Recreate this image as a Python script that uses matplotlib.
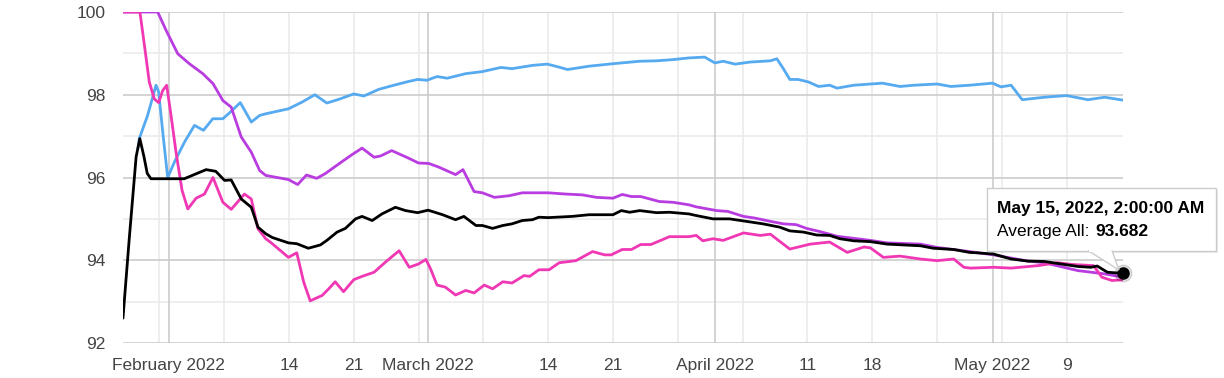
import matplotlib
matplotlib.use('Agg')
import matplotlib.pyplot as plt
import matplotlib.dates as mdates
import numpy as np
import pandas as pd
from matplotlib.patches import Rectangle, Polygon

plt.rcParams['font.family'] = ['Liberation Sans', 'DejaVu Sans']

# x values are days since 2022-02-01 00:00
BASE = pd.Timestamp('2022-02-01')
START_DAY = -4.917   # Jan 27, 02:00
END_DAY = 103.083    # May 15, 02:00

avg_all = [
  (-4.92, 92.60), (-4.25, 94.50), (-3.5, 96.50), (-3.1, 96.94), (-2.65, 96.50), (-2.3, 96.10),
  (-1.9, 95.97), (0.0, 95.97), (1.7, 95.97), (4.06, 96.19), (5.1, 96.15), (6.05, 95.93),
  (6.77, 95.94), (7.86, 95.48), (8.94, 95.28), (9.66, 94.80), (10.5, 94.64), (11.2, 94.55),
  (12.95, 94.42), (13.85, 94.40), (15.1, 94.29), (16.4, 94.37), (17.1, 94.48), (18.2, 94.68),
  (19.1, 94.77), (20.2, 95.00), (20.9, 95.06), (22.0, 94.96), (23.05, 95.12), (24.5, 95.28),
  (25.6, 95.20), (26.9, 95.15), (28.04, 95.21), (29.6, 95.10), (31.0, 94.98), (31.9, 95.06),
  (33.2, 94.84), (33.9, 94.84), (35.0, 94.77), (36.1, 94.84), (37.1, 94.88), (38.2, 94.96),
  (39.3, 94.98), (40.0, 95.04), (41.0, 95.03), (43.6, 95.06), (45.4, 95.10), (48.0, 95.10),
  (48.9, 95.20), (49.8, 95.16), (50.9, 95.20), (52.7, 95.15), (54.1, 95.16), (56.2, 95.12),
  (57.0, 95.08), (58.8, 95.00), (60.6, 95.00), (62.4, 94.94), (64.2, 94.88), (66.0, 94.80),
  (67.1, 94.71), (68.6, 94.68), (70.0, 94.61), (71.4, 94.60), (72.5, 94.52), (74.0, 94.47),
  (75.8, 94.45), (77.6, 94.39), (79.4, 94.37), (81.2, 94.35), (82.6, 94.29), (84.8, 94.26),
  (86.5, 94.19), (87.3, 94.18), (89.1, 94.15), (91.0, 94.03), (92.8, 93.98), (94.6, 93.97),
  (96.4, 93.91), (98.2, 93.85), (99.6, 93.83), (100.3, 93.86), (101.4, 93.71), (103.08, 93.682),
]

blue = [
  (-3.3, 96.70), (-3.16, 96.94), (-2.26, 97.50), (-1.35, 98.23), (-1.07, 98.07), (-0.55, 96.94),
  (-0.09, 96.00), (0.63, 96.37), (1.71, 96.85), (2.8, 97.26), (3.77, 97.14), (4.78, 97.42),
  (5.87, 97.42), (6.77, 97.60), (7.75, 97.81), (8.94, 97.34), (9.84, 97.50), (10.5, 97.54),
  (12.95, 97.66), (14.4, 97.82), (15.8, 98.00), (17.1, 97.80), (18.4, 97.89), (20.0, 98.02),
  (21.1, 97.97), (22.7, 98.13), (24.5, 98.24), (25.9, 98.32), (26.9, 98.37), (27.9, 98.35),
  (29.0, 98.44), (30.1, 98.40), (32.1, 98.51), (33.9, 98.56), (35.9, 98.66), (37.1, 98.63),
  (39.3, 98.71), (40.9, 98.74), (41.8, 98.69), (43.1, 98.61), (45.4, 98.69), (48.0, 98.75),
  (50.9, 98.81), (52.7, 98.82), (54.5, 98.85), (56.2, 98.89), (57.9, 98.91), (59.0, 98.77),
  (59.9, 98.81), (61.2, 98.74), (62.8, 98.79), (65.0, 98.82), (65.7, 98.87), (66.4, 98.63),
  (67.1, 98.37), (68.0, 98.37), (69.1, 98.31), (70.2, 98.20), (71.4, 98.23), (72.2, 98.16),
  (74.0, 98.23), (77.1, 98.28), (79.0, 98.20), (80.5, 98.23), (83.0, 98.26), (84.5, 98.20),
  (86.5, 98.23), (89.0, 98.28), (89.9, 98.19), (91.0, 98.23), (92.2, 97.88), (94.6, 97.94),
  (97.0, 97.98), (99.3, 97.88), (101.1, 97.94), (103.08, 97.87),
]

purple = [
  (-4.92, 100.0), (-1.17, 100.0), (-0.27, 99.56), (1.0, 98.99), (2.25, 98.75), (3.7, 98.51),
  (4.8, 98.27), (5.87, 97.86), (6.77, 97.70), (7.85, 96.98), (8.94, 96.61), (9.84, 96.17),
  (10.5, 96.05), (12.95, 95.95), (13.95, 95.83), (14.9, 96.06), (16.0, 95.98), (16.9, 96.09),
  (18.4, 96.33), (19.8, 96.55), (20.9, 96.71), (22.2, 96.49), (22.9, 96.52), (24.1, 96.65),
  (25.9, 96.47), (27.0, 96.35), (28.1, 96.34), (29.2, 96.25), (31.0, 96.07), (31.8, 96.19),
  (33.0, 95.66), (33.9, 95.63), (35.2, 95.52), (36.8, 95.56), (38.2, 95.63), (41.0, 95.63),
  (42.9, 95.60), (44.7, 95.58), (46.2, 95.52), (48.0, 95.50), (49.0, 95.59), (50.0, 95.54),
  (51.0, 95.54), (53.0, 95.42), (54.5, 95.40), (56.2, 95.34), (57.0, 95.29), (59.2, 95.20),
  (60.4, 95.18), (62.1, 95.06), (63.3, 95.02), (65.0, 94.94), (66.4, 94.88), (67.8, 94.86),
  (68.9, 94.77), (70.4, 94.69), (71.4, 94.63), (72.2, 94.58), (75.8, 94.48), (77.6, 94.42),
  (81.2, 94.39), (83.0, 94.31), (86.5, 94.21), (89.1, 94.13), (92.8, 93.98), (94.6, 93.94),
  (98.2, 93.75), (101.1, 93.67), (103.08, 93.59),
]

pink = [
  (-4.92, 100.0), (-3.09, 100.0), (-2.6, 99.19), (-2.08, 98.31), (-1.54, 97.90), (-1.07, 97.81),
  (-0.63, 98.10), (-0.2, 98.23), (0.27, 97.50), (0.81, 96.61), (1.46, 95.69), (2.08, 95.24),
  (2.98, 95.50), (3.88, 95.60), (4.8, 96.00), (5.87, 95.40), (6.77, 95.23), (8.2, 95.60),
  (8.94, 95.48), (9.66, 94.76), (10.5, 94.52), (11.1, 94.42), (12.95, 94.07), (13.85, 94.18),
  (14.6, 93.47), (15.3, 93.02), (16.6, 93.15), (17.3, 93.31), (18.0, 93.48), (18.9, 93.24),
  (20.0, 93.53), (20.9, 93.61), (22.2, 93.71), (23.4, 93.95), (24.9, 94.23), (26.0, 93.83),
  (27.0, 93.91), (27.8, 94.02), (28.3, 93.79), (29.0, 93.40), (29.9, 93.35), (31.0, 93.16),
  (32.1, 93.27), (33.0, 93.21), (34.1, 93.40), (35.0, 93.31), (36.1, 93.48), (37.1, 93.45),
  (38.4, 93.63), (39.0, 93.61), (40.0, 93.77), (41.1, 93.77), (42.2, 93.94), (44.0, 93.99),
  (45.8, 94.21), (47.1, 94.13), (47.8, 94.13), (49.0, 94.26), (50.0, 94.26), (51.0, 94.38),
  (52.1, 94.38), (54.1, 94.57), (56.2, 94.57), (57.0, 94.60), (57.7, 94.47), (58.8, 94.52),
  (59.9, 94.48), (62.1, 94.66), (63.9, 94.60), (65.0, 94.63), (67.1, 94.27), (69.3, 94.39),
  (71.4, 94.44), (73.3, 94.19), (75.1, 94.32), (75.8, 94.30), (77.2, 94.07), (79.0, 94.10),
  (81.2, 94.03), (83.0, 93.99), (84.8, 94.03), (85.9, 93.83), (86.6, 93.81), (89.1, 93.83),
  (91.0, 93.81), (93.9, 93.87), (96.0, 93.94), (97.5, 93.90), (99.9, 93.87), (100.8, 93.59),
  (101.9, 93.51), (103.08, 93.53),
]

y_ticks = [92, 94, 96, 98, 100]
month_ticks = ['2022-02-01', '2022-03-01', '2022-04-01', '2022-05-01']
month_labels = ['February 2022', 'March 2022', 'April 2022', 'May 2022']
week_ticks = ['2022-02-14', '2022-02-21', '2022-03-14', '2022-03-21', '2022-04-11', '2022-04-18', '2022-05-09']
week_labels = ['14', '21', '14', '21', '11', '18', '9']

tooltip_title = 'May 15, 2022, 2:00:00 AM'
tooltip_name = 'Average All: '
tooltip_value = '93.682'


def to_num(days):
  return mdates.date2num(BASE) + np.asarray(days, dtype=float)


def px(x, y):
  # figure pixel -> figure fraction
  return (x / 1224.0, 1 - y / 378.0)


fig = plt.figure(figsize=(12.24, 3.78), dpi=100)
ax = fig.add_axes([123 / 1224, 1 - 343 / 378, 1000 / 1224, 331 / 378])

# grid
for v in [93, 95, 97, 99]:
  ax.axhline(v, color='#ebebeb', lw=1.2, zorder=0)
for v in y_ticks:
  ax.axhline(v, color='#cccccc', lw=1.2, zorder=0.5)
for d in pd.date_range('2022-01-31', '2022-05-09', freq='7D'):
  ax.axvline(mdates.date2num(d), color='#ebebeb', lw=1.2, zorder=0)
for d in month_ticks:
  ax.axvline(mdates.date2num(pd.Timestamp(d)), color='#cccccc', lw=1.2, zorder=0.5)

series = [
  (blue, '#55aaf0'),
  (purple, '#b93ce1'),
  (pink, '#f037b4'),
  (avg_all, '#000000'),
]
for pts, color in series:
  d, v = zip(*pts)
  ax.plot(to_num(d), v, color=color, lw=2.0, solid_joinstyle='round', solid_capstyle='round', zorder=3)

# hovered point
last_d, last_v = avg_all[-1]
ax.plot(to_num([last_d]), [last_v], 'o', ms=12, color='#000000', alpha=0.12, zorder=4, clip_on=False)
ax.plot(to_num([last_d]), [last_v], 'o', ms=8, color='#000000', zorder=5, clip_on=False)

ax.set_xlim(to_num([START_DAY])[0], to_num([END_DAY])[0])
ax.set_ylim(92, 100)

ticks = [mdates.date2num(pd.Timestamp(t)) for t in month_ticks + week_ticks]
ax.set_xticks(ticks)
ax.set_xticklabels(month_labels + week_labels)
ax.set_yticks(y_ticks)
ax.set_yticklabels([str(v) for v in y_ticks])
ax.tick_params(axis='both', length=0, labelsize=12.5, labelcolor='#444444')
ax.tick_params(axis='x', pad=10.5)
ax.tick_params(axis='y', pad=12.5)
for s in ax.spines.values():
  s.set_visible(False)

# tooltip
x0, y0, x1, y1 = 987, 188, 1216, 251
shadow = Rectangle(px(x0 + 2, y1 + 2), (x1 - x0) / 1224, (y1 - y0) / 378, transform=fig.transFigure,
                   facecolor='#000000', alpha=0.08, edgecolor='none', zorder=10)
box = Rectangle(px(x0, y1), (x1 - x0) / 1224, (y1 - y0) / 378, transform=fig.transFigure,
                facecolor='white', edgecolor='#cccccc', lw=1, zorder=11)
fig.add_artist(shadow)
fig.add_artist(box)
pointer = Polygon([px(1088, y1 - 0.5), px(1119, 270), px(1112, y1 - 0.5)], closed=False,
                  transform=fig.transFigure, facecolor='white', edgecolor='#cccccc', lw=1, zorder=12)
fig.add_artist(pointer)
cover = Rectangle(px(1089, y1 + 0.5), 22 / 1224, 2 / 378, transform=fig.transFigure,
                  facecolor='white', edgecolor='none', zorder=13)
fig.add_artist(cover)

fig.text(*px(997, 209), tooltip_title, fontsize=12.5, fontweight='bold', color='#000000',
         va='center', ha='left', zorder=14)
fig.text(*px(997, 231), tooltip_name, fontsize=12.5, color='#000000', va='center', ha='left', zorder=14)
fig.text(*px(1095, 231), tooltip_value, fontsize=12.5, fontweight='bold', color='#000000',
         va='center', ha='left', zorder=14)

fig.savefig('out.png', dpi=100, facecolor='white')
